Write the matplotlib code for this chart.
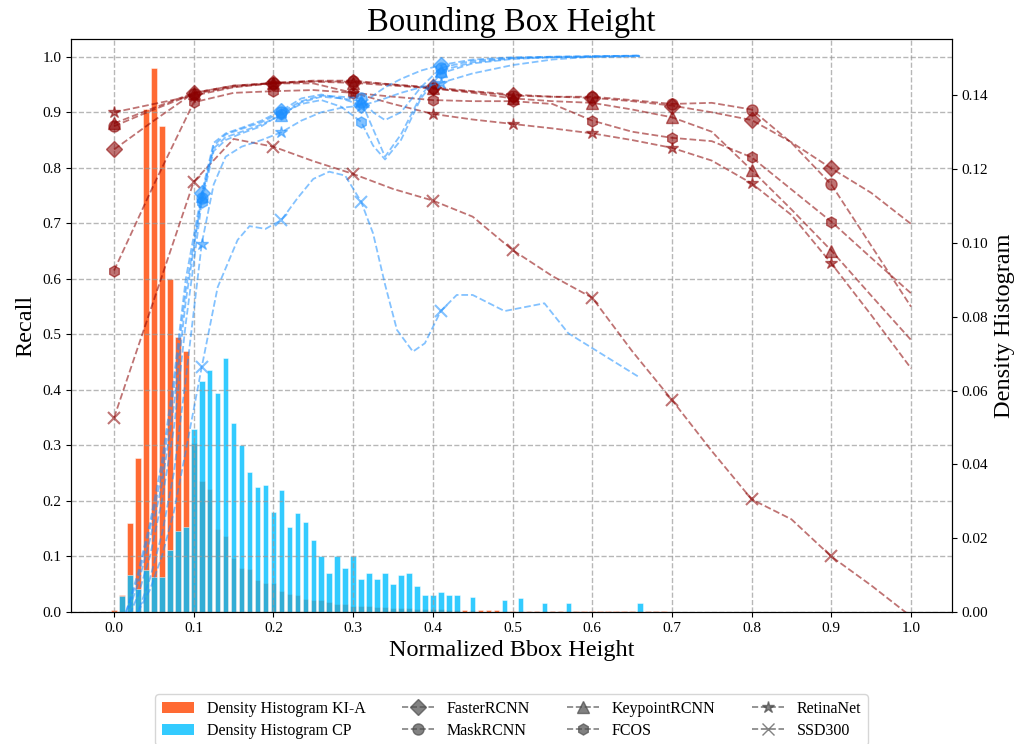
import numpy as np
import matplotlib
matplotlib.use("Agg")
import matplotlib.pyplot as plt
from matplotlib.lines import Line2D
from matplotlib.patches import Patch

plt.rcParams["font.family"] = ["Liberation Serif", "DejaVu Serif"]

# ---------------------------------------------------------------- histograms
# bin centres (normalized bbox height) and density per bin
hist_bins = np.round(np.arange(70) * 0.01, 2)

density_kia = [
    0.0005, 0.0047, 0.0242, 0.0417, 0.1362, 0.1475, 0.1317, 0.0903, 0.0745, 0.0707,
    0.0459, 0.0355, 0.0334, 0.0226, 0.0206, 0.0146, 0.0120, 0.0117, 0.0086, 0.0078,
    0.0078, 0.0056, 0.0048, 0.0047, 0.0035, 0.0032, 0.0033, 0.0026, 0.0021, 0.0023,
    0.0017, 0.0017, 0.0017, 0.0014, 0.0014, 0.0012, 0.0012, 0.0011, 0.0009, 0.0009,
    0.0008, 0.0008, 0.0006, 0.0006, 0.0006, 0.0005, 0.0005, 0.0005, 0.0005, 0.0003,
    0.0003, 0.0003, 0.0003, 0.0003, 0.0003, 0.0002, 0.0002, 0.0002, 0.0002, 0.0002,
    0.0002, 0.0002, 0.0002, 0.0002, 0.0002, 0.0002, 0.0002, 0.0002, 0.0002, 0.0002,
]

density_cp = [
    0.0, 0.0044, 0.0099, 0.0062, 0.0114, 0.0096, 0.0096, 0.0169, 0.0220, 0.0230,
    0.0497, 0.0625, 0.0655, 0.0594, 0.0689, 0.0512, 0.0452, 0.0379, 0.0339, 0.0345,
    0.0272, 0.0330, 0.0230, 0.0268, 0.0244, 0.0196, 0.0152, 0.0105, 0.0152, 0.0120,
    0.0152, 0.0090, 0.0105, 0.0090, 0.0105, 0.0077, 0.0101, 0.0105, 0.0071, 0.0047,
    0.0047, 0.0053, 0.0047, 0.0047, 0.0, 0.0042, 0.0, 0.0, 0.0, 0.0033,
    0.0, 0.0038, 0.0, 0.0, 0.0024, 0.0, 0.0, 0.0024, 0.0, 0.0,
    0.0, 0.0, 0.0, 0.0, 0.0, 0.0, 0.0024, 0.0, 0.0, 0.0,
]

# ---------------------------------------------------------------- KI-A recall
models = ["FasterRCNN", "MaskRCNN", "KeypointRCNN", "FCOS", "RetinaNet", "SSD300"]
model_markers = ["D", "o", "^", "h", "*", "x"]
marker_sizes = [8.5, 8, 8, 8, 9, 8]

kia_x = [0.0, 0.05, 0.1, 0.15, 0.2, 0.25, 0.3, 0.35, 0.4, 0.45, 0.5,
         0.55, 0.6, 0.65, 0.7, 0.75, 0.8, 0.85, 0.9, 0.95, 1.0]

kia_faster = [0.833, 0.885, 0.935, 0.948, 0.952, 0.956, 0.955, 0.950, 0.945, 0.938, 0.932,
              0.928, 0.926, 0.920, 0.912, 0.900, 0.886, 0.846, 0.799, 0.755, 0.699]
kia_mask = [0.875, 0.905, 0.933, 0.946, 0.953, 0.957, 0.957, 0.950, 0.943, 0.937, 0.930,
            0.928, 0.928, 0.922, 0.915, 0.917, 0.905, 0.845, 0.770, 0.660, 0.550]
kia_keypoint = [0.880, 0.908, 0.935, 0.948, 0.953, 0.955, 0.953, 0.948, 0.943, 0.935, 0.925,
                0.920, 0.917, 0.905, 0.891, 0.865, 0.796, 0.725, 0.651, 0.570, 0.490]
kia_fcos = [0.615, 0.770, 0.918, 0.935, 0.938, 0.940, 0.935, 0.928, 0.922, 0.920, 0.920,
            0.915, 0.885, 0.865, 0.854, 0.848, 0.819, 0.761, 0.703, 0.638, 0.574]
kia_retina = [0.900, 0.915, 0.930, 0.945, 0.952, 0.952, 0.935, 0.915, 0.897, 0.887, 0.879,
              0.871, 0.862, 0.850, 0.836, 0.813, 0.772, 0.715, 0.628, 0.535, 0.439]
kia_ssd = [0.350, 0.562, 0.775, 0.852, 0.838, 0.812, 0.789, 0.762, 0.741, 0.712, 0.652,
           0.605, 0.566, 0.470, 0.382, 0.290, 0.203, 0.167, 0.100, 0.048, -0.008]

# ------------------------------------------------------------------ CP recall
cp_x = [0.015, 0.03, 0.045, 0.06, 0.075, 0.09, 0.11, 0.125, 0.14, 0.16, 0.185, 0.21, 0.235,
        0.26, 0.285, 0.31, 0.325, 0.34, 0.36, 0.385, 0.41, 0.45, 0.5, 0.55, 0.6, 0.66]

cp_faster = [0.0, 0.07, 0.16, 0.27, 0.42, 0.60, 0.755, 0.845, 0.862, 0.872, 0.885, 0.903, 0.925,
             0.932, 0.925, 0.913, 0.930, 0.945, 0.960, 0.975, 0.985, 0.995, 0.999, 1.0, 1.001, 1.002]
cp_mask = [0.0, 0.06, 0.15, 0.25, 0.40, 0.58, 0.745, 0.840, 0.860, 0.870, 0.882, 0.900, 0.920,
           0.930, 0.928, 0.925, 0.900, 0.886, 0.900, 0.945, 0.980, 0.993, 0.998, 1.0, 1.001, 1.002]
cp_keypoint = [-0.01, 0.05, 0.13, 0.23, 0.37, 0.56, 0.750, 0.835, 0.855, 0.865, 0.878, 0.895, 0.918,
               0.928, 0.925, 0.920, 0.870, 0.820, 0.860, 0.930, 0.975, 0.990, 0.997, 0.999, 1.0, 1.002]
cp_fcos = [-0.02, 0.03, 0.10, 0.20, 0.33, 0.52, 0.738, 0.830, 0.850, 0.862, 0.875, 0.897, 0.915,
           0.922, 0.910, 0.883, 0.840, 0.815, 0.850, 0.925, 0.970, 0.988, 0.996, 0.999, 1.0, 1.001]
cp_retina = [-0.04, 0.0, 0.06, 0.14, 0.25, 0.42, 0.663, 0.770, 0.820, 0.838, 0.850, 0.864, 0.885,
             0.900, 0.908, 0.912, 0.918, 0.925, 0.935, 0.945, 0.953, 0.970, 0.985, 0.995, 1.0, 1.001]

cp_ssd_x = [0.03, 0.045, 0.06, 0.075, 0.09, 0.11, 0.13, 0.155, 0.17, 0.19, 0.21, 0.23, 0.25, 0.27,
            0.29, 0.31, 0.325, 0.34, 0.355, 0.375, 0.39, 0.41, 0.43, 0.45, 0.49, 0.54, 0.57, 0.66]
cp_ssd = [0.0, 0.04, 0.10, 0.18, 0.29, 0.441, 0.585, 0.670, 0.695, 0.690, 0.706, 0.745, 0.780, 0.793,
          0.786, 0.739, 0.682, 0.590, 0.508, 0.469, 0.484, 0.542, 0.571, 0.571, 0.542, 0.556, 0.502, 0.422]

x_ticks = [0.0, 0.1, 0.2, 0.3, 0.4, 0.5, 0.6, 0.7, 0.8, 0.9, 1.0]
recall_ticks = [0.0, 0.1, 0.2, 0.3, 0.4, 0.5, 0.6, 0.7, 0.8, 0.9, 1.0]

# ------------------------------------------------------------------- drawing
KIA_COLOR = "#8B0000"
CP_COLOR = "#1E90FF"

fig = plt.figure(figsize=(10.25, 7.44), dpi=100)
ax = fig.add_axes([0.0693, 0.1774, 0.8595, 0.7702])
ax_h = ax.twinx()
ax.set_zorder(ax_h.get_zorder() + 1)
ax.patch.set_visible(False)

ax_h.bar(hist_bins, density_kia, width=0.007, color="orangered", alpha=0.8,
         edgecolor="white", linewidth=0.4)
ax_h.bar(hist_bins, density_cp, width=0.007, color="deepskyblue", alpha=0.8,
         edgecolor="white", linewidth=0.4)

kia_series = [kia_faster, kia_mask, kia_keypoint, kia_fcos, kia_retina, kia_ssd]
for ys, mk, ms in zip(kia_series, model_markers, marker_sizes):
    ax.plot(kia_x, ys, linestyle="--", color=KIA_COLOR, alpha=0.55, linewidth=1.3,
            marker=mk, markersize=ms, markevery=slice(0, 19, 2),
            markeredgewidth=1.5 if mk == "x" else 1.0)

cp_series = [cp_faster, cp_mask, cp_keypoint, cp_fcos, cp_retina]
for ys, mk, ms in zip(cp_series, model_markers[:5], marker_sizes[:5]):
    ax.plot(cp_x, ys, linestyle="--", color=CP_COLOR, alpha=0.55, linewidth=1.3,
            marker=mk, markersize=ms, markevery=[6, 11, 15, 20])
ax.plot(cp_ssd_x, cp_ssd, linestyle="--", color=CP_COLOR, alpha=0.55, linewidth=1.3,
        marker="x", markersize=8, markeredgewidth=1.5, markevery=[5, 10, 15, 21])

ax.set_xlim(-0.054, 1.0515)
ax.set_ylim(0.0, 1.032)
ax_h.set_ylim(0.0, 0.1553)
ax.set_xticks(x_ticks)
ax.set_yticks(recall_ticks)
ax.grid(True, linestyle="--", color="0.6", alpha=0.7, linewidth=1.0)

ax.tick_params(labelsize=11)
ax_h.tick_params(labelsize=11)
ax.set_title("Bounding Box Height", fontsize=23.5)
ax.set_xlabel("Normalized Bbox Height", fontsize=17.5)
ax.set_ylabel("Recall", fontsize=17.5)
ax_h.set_ylabel("Density Histogram", fontsize=17.5)

handles = [Patch(facecolor="orangered", alpha=0.8, label="Density Histogram KI-A"),
           Patch(facecolor="deepskyblue", alpha=0.8, label="Density Histogram CP")]
for name, mk, ms in zip(models, model_markers, marker_sizes):
    handles.append(Line2D([], [], linestyle="--", color="0.3", alpha=0.7, marker=mk,
                          markersize=ms, linewidth=1.2, label=name))
ax.legend(handles=handles, loc="upper center", bbox_to_anchor=(0.5, -0.13), ncol=4,
          fontsize=11.5, labelspacing=0.38, columnspacing=2.3)

fig.savefig("out.png", dpi=100)
